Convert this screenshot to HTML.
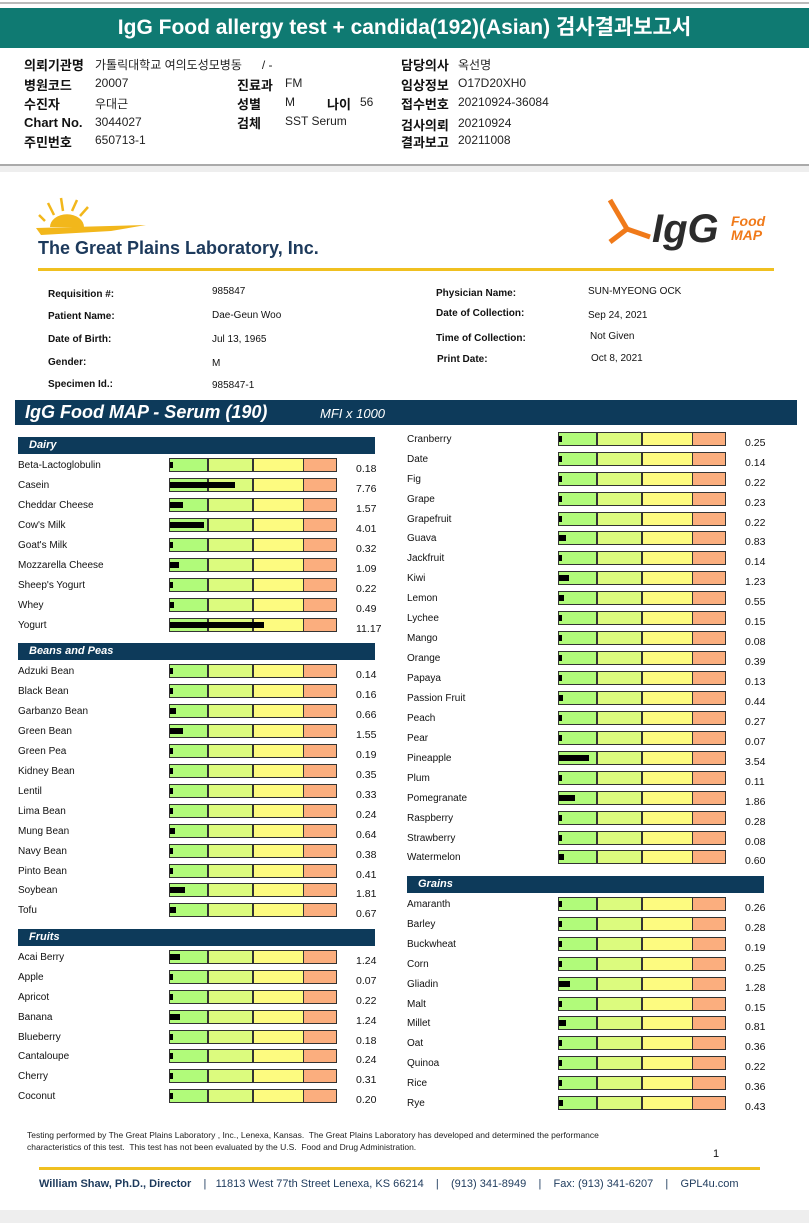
<!DOCTYPE html>
<html><head><meta charset="utf-8">
<style>
*{margin:0;padding:0;box-sizing:border-box}
body{width:809px;height:1223px;position:relative;background:#fff;font-family:"Liberation Sans","Noto Sans CJK KR",sans-serif;overflow:hidden;color:#111}
.a{position:absolute;white-space:nowrap}
.ttl{left:0;top:8px;width:809px;height:40px;background:#0f7a72;color:#fff;font-weight:bold;font-size:21px;text-align:center;line-height:40px}
.k{font-weight:bold;font-size:13px}
.t{font-size:12px;color:#222}
.ik{font-weight:bold;font-size:10px}
.iv{font-size:10px}
.col{position:absolute;left:0;top:0;width:400px;height:1223px}
.r{position:absolute;left:0;height:20px;width:400px}
.l{position:absolute;left:18px;top:-5px;font-size:10px}
.b{position:absolute;left:169px;top:-7px;width:168px;height:14px;border:1px solid #333;background:linear-gradient(90deg,#b1fb7a 0 37px,#333 37px 39px,#dcfb7e 39px 82px,#333 82px 84px,#fdfb80 84px 133px,#333 133px 134px,#fbae7e 134px)}
.b i{position:absolute;left:0;top:3px;height:6px;background:#000;width:max(3px,calc(var(--v)*8.4px))}
.v{position:absolute;left:356px;top:-2px;font-size:10.5px}
.h{position:absolute;left:18px;width:357px;height:17px;background:#0d3a5a;color:#fff;font-weight:bold;font-style:italic;font-size:11px;line-height:17px;padding-left:11px}
</style></head><body>
<div class="a" style="left:0;top:2px;width:809px;height:2px;background:#bbb"></div>
<div class="a ttl">IgG Food allergy test + candida(192)(Asian) 검사결과보고서</div>
<div class="a k" style="left:24px;top:55px">의뢰기관명</div><div class="a t" style="left:95px;top:56px">가톨릭대학교 여의도성모병동 &nbsp;&nbsp;&nbsp;&nbsp;&nbsp;/ -</div>
<div class="a k" style="left:24px;top:75px">병원코드</div><div class="a t" style="left:95px;top:76px">20007</div>
<div class="a k" style="left:24px;top:94px">수진자</div><div class="a t" style="left:95px;top:95px">우대근</div>
<div class="a k" style="left:24px;top:115px">Chart No.</div><div class="a t" style="left:95px;top:115px">3044027</div>
<div class="a k" style="left:24px;top:132px">주민번호</div><div class="a t" style="left:95px;top:133px">650713-1</div>
<div class="a k" style="left:237px;top:75px">진료과</div><div class="a t" style="left:285px;top:76px">FM</div>
<div class="a k" style="left:237px;top:94px">성별</div><div class="a t" style="left:285px;top:95px">M</div>
<div class="a k" style="left:327px;top:94px">나이</div><div class="a t" style="left:360px;top:95px">56</div>
<div class="a k" style="left:237px;top:113px">검체</div><div class="a t" style="left:285px;top:114px">SST Serum</div>
<div class="a k" style="left:401px;top:55px">담당의사</div><div class="a t" style="left:458px;top:56px">옥선명</div>
<div class="a k" style="left:401px;top:75px">임상정보</div><div class="a t" style="left:458px;top:76px">O17D20XH0</div>
<div class="a k" style="left:401px;top:94px">접수번호</div><div class="a t" style="left:458px;top:95px">20210924-36084</div>
<div class="a k" style="left:401px;top:115px">검사의뢰</div><div class="a t" style="left:458px;top:116px">20210924</div>
<div class="a k" style="left:401px;top:132px">결과보고</div><div class="a t" style="left:458px;top:133px">20211008</div>
<div class="a" style="left:0;top:164px;width:809px;height:8px;background:#eee;border-top:2px solid #aaa"></div>
<div class="a" style="left:0;top:1210px;width:809px;height:13px;background:#eee"></div>
<svg class="a" style="left:36px;top:195px" width="140" height="40"><g stroke="#f2b71b" stroke-width="2.5" fill="none"><line x1="18" y1="20" x2="12" y2="8"/><line x1="27" y1="16" x2="25" y2="3"/><line x1="36" y1="16" x2="41" y2="5"/><line x1="44" y1="21" x2="52" y2="12"/><line x1="9" y1="26" x2="3" y2="20"/></g><path d="M14 32 a16 12 0 0 1 34 0z" fill="#f2b71b"/><path d="M0 33 L110 30 L75 36 L5 40z" fill="#f2b71b"/></svg>
<div class="a" style="left:38px;top:238px;font-size:18px;font-weight:bold;color:#1d3a5c">The Great Plains Laboratory, Inc.</div>
<svg class="a" style="left:605px;top:197px" width="50" height="50"><g stroke="#f07a1a" stroke-width="5" fill="none"><line x1="5" y1="3" x2="22" y2="32"/><line x1="22" y1="32" x2="45" y2="40"/><line x1="22" y1="32" x2="5" y2="45"/></g></svg>
<div class="a" style="left:652px;top:207px;font-size:40px;font-weight:bold;font-style:italic;color:#2c2c2c">IgG</div>
<div class="a" style="left:731px;top:214px;font-size:14px;font-weight:bold;font-style:italic;color:#f07a1a;line-height:14px">Food<br>MAP</div>
<div class="a" style="left:38px;top:268px;width:736px;height:3px;background:#f0c020"></div>
<div class="a ik" style="left:48px;top:289px">Requisition #:</div><div class="a iv" style="left:212px;top:286px">985847</div>
<div class="a ik" style="left:48px;top:311px">Patient Name:</div><div class="a iv" style="left:212px;top:310px">Dae-Geun Woo</div>
<div class="a ik" style="left:48px;top:334px">Date of Birth:</div><div class="a iv" style="left:212px;top:334px">Jul 13, 1965</div>
<div class="a ik" style="left:48px;top:357px">Gender:</div><div class="a iv" style="left:212px;top:358px">M</div>
<div class="a ik" style="left:48px;top:379px">Specimen Id.:</div><div class="a iv" style="left:212px;top:380px">985847-1</div>
<div class="a ik" style="left:436px;top:288px">Physician Name:</div><div class="a iv" style="left:588px;top:286px">SUN-MYEONG OCK</div>
<div class="a ik" style="left:436px;top:308px">Date of Collection:</div><div class="a iv" style="left:588px;top:310px">Sep 24, 2021</div>
<div class="a ik" style="left:436px;top:333px">Time of Collection:</div><div class="a iv" style="left:590px;top:331px">Not Given</div>
<div class="a ik" style="left:437px;top:354px">Print Date:</div><div class="a iv" style="left:591px;top:353px">Oct 8, 2021</div>
<div class="a" style="left:15px;top:400px;width:782px;height:25px;background:#0d3a5a;color:#fff"><span style="position:absolute;left:10px;top:2px;font-size:18px;font-weight:bold;font-style:italic">IgG Food MAP - Serum (190)</span><span style="position:absolute;left:305px;top:6px;font-size:13px;font-style:italic">MFI x 1000</span></div>

<div class="col">
<div class="h" style="top:437px">Dairy</div>
<div class="r" style="top:465px"><span class="l">Beta-Lactoglobulin</span><div class="b"><i style="--v:0.18"></i></div><span class="v">0.18</span></div>
<div class="r" style="top:485px"><span class="l">Casein</span><div class="b"><i style="--v:7.76"></i></div><span class="v">7.76</span></div>
<div class="r" style="top:505px"><span class="l">Cheddar Cheese</span><div class="b"><i style="--v:1.57"></i></div><span class="v">1.57</span></div>
<div class="r" style="top:525px"><span class="l">Cow's Milk</span><div class="b"><i style="--v:4.01"></i></div><span class="v">4.01</span></div>
<div class="r" style="top:545px"><span class="l">Goat's Milk</span><div class="b"><i style="--v:0.32"></i></div><span class="v">0.32</span></div>
<div class="r" style="top:565px"><span class="l">Mozzarella Cheese</span><div class="b"><i style="--v:1.09"></i></div><span class="v">1.09</span></div>
<div class="r" style="top:585px"><span class="l">Sheep's Yogurt</span><div class="b"><i style="--v:0.22"></i></div><span class="v">0.22</span></div>
<div class="r" style="top:605px"><span class="l">Whey</span><div class="b"><i style="--v:0.49"></i></div><span class="v">0.49</span></div>
<div class="r" style="top:625px"><span class="l">Yogurt</span><div class="b"><i style="--v:11.17"></i></div><span class="v">11.17</span></div>
<div class="h" style="top:643px">Beans and Peas</div>
<div class="r" style="top:671px"><span class="l">Adzuki Bean</span><div class="b"><i style="--v:0.14"></i></div><span class="v">0.14</span></div>
<div class="r" style="top:691px"><span class="l">Black Bean</span><div class="b"><i style="--v:0.16"></i></div><span class="v">0.16</span></div>
<div class="r" style="top:711px"><span class="l">Garbanzo Bean</span><div class="b"><i style="--v:0.66"></i></div><span class="v">0.66</span></div>
<div class="r" style="top:731px"><span class="l">Green Bean</span><div class="b"><i style="--v:1.55"></i></div><span class="v">1.55</span></div>
<div class="r" style="top:751px"><span class="l">Green Pea</span><div class="b"><i style="--v:0.19"></i></div><span class="v">0.19</span></div>
<div class="r" style="top:771px"><span class="l">Kidney Bean</span><div class="b"><i style="--v:0.35"></i></div><span class="v">0.35</span></div>
<div class="r" style="top:791px"><span class="l">Lentil</span><div class="b"><i style="--v:0.33"></i></div><span class="v">0.33</span></div>
<div class="r" style="top:811px"><span class="l">Lima Bean</span><div class="b"><i style="--v:0.24"></i></div><span class="v">0.24</span></div>
<div class="r" style="top:831px"><span class="l">Mung Bean</span><div class="b"><i style="--v:0.64"></i></div><span class="v">0.64</span></div>
<div class="r" style="top:851px"><span class="l">Navy Bean</span><div class="b"><i style="--v:0.38"></i></div><span class="v">0.38</span></div>
<div class="r" style="top:871px"><span class="l">Pinto Bean</span><div class="b"><i style="--v:0.41"></i></div><span class="v">0.41</span></div>
<div class="r" style="top:890px"><span class="l">Soybean</span><div class="b"><i style="--v:1.81"></i></div><span class="v">1.81</span></div>
<div class="r" style="top:910px"><span class="l">Tofu</span><div class="b"><i style="--v:0.67"></i></div><span class="v">0.67</span></div>
<div class="h" style="top:929px">Fruits</div>
<div class="r" style="top:957px"><span class="l">Acai Berry</span><div class="b"><i style="--v:1.24"></i></div><span class="v">1.24</span></div>
<div class="r" style="top:977px"><span class="l">Apple</span><div class="b"><i style="--v:0.07"></i></div><span class="v">0.07</span></div>
<div class="r" style="top:997px"><span class="l">Apricot</span><div class="b"><i style="--v:0.22"></i></div><span class="v">0.22</span></div>
<div class="r" style="top:1017px"><span class="l">Banana</span><div class="b"><i style="--v:1.24"></i></div><span class="v">1.24</span></div>
<div class="r" style="top:1037px"><span class="l">Blueberry</span><div class="b"><i style="--v:0.18"></i></div><span class="v">0.18</span></div>
<div class="r" style="top:1056px"><span class="l">Cantaloupe</span><div class="b"><i style="--v:0.24"></i></div><span class="v">0.24</span></div>
<div class="r" style="top:1076px"><span class="l">Cherry</span><div class="b"><i style="--v:0.31"></i></div><span class="v">0.31</span></div>
<div class="r" style="top:1096px"><span class="l">Coconut</span><div class="b"><i style="--v:0.20"></i></div><span class="v">0.20</span></div>
</div>

<div class="col" style="left:389px">
<div class="r" style="top:439px"><span class="l">Cranberry</span><div class="b"><i style="--v:0.25"></i></div><span class="v">0.25</span></div>
<div class="r" style="top:459px"><span class="l">Date</span><div class="b"><i style="--v:0.14"></i></div><span class="v">0.14</span></div>
<div class="r" style="top:479px"><span class="l">Fig</span><div class="b"><i style="--v:0.22"></i></div><span class="v">0.22</span></div>
<div class="r" style="top:499px"><span class="l">Grape</span><div class="b"><i style="--v:0.23"></i></div><span class="v">0.23</span></div>
<div class="r" style="top:519px"><span class="l">Grapefruit</span><div class="b"><i style="--v:0.22"></i></div><span class="v">0.22</span></div>
<div class="r" style="top:538px"><span class="l">Guava</span><div class="b"><i style="--v:0.83"></i></div><span class="v">0.83</span></div>
<div class="r" style="top:558px"><span class="l">Jackfruit</span><div class="b"><i style="--v:0.14"></i></div><span class="v">0.14</span></div>
<div class="r" style="top:578px"><span class="l">Kiwi</span><div class="b"><i style="--v:1.23"></i></div><span class="v">1.23</span></div>
<div class="r" style="top:598px"><span class="l">Lemon</span><div class="b"><i style="--v:0.55"></i></div><span class="v">0.55</span></div>
<div class="r" style="top:618px"><span class="l">Lychee</span><div class="b"><i style="--v:0.15"></i></div><span class="v">0.15</span></div>
<div class="r" style="top:638px"><span class="l">Mango</span><div class="b"><i style="--v:0.08"></i></div><span class="v">0.08</span></div>
<div class="r" style="top:658px"><span class="l">Orange</span><div class="b"><i style="--v:0.39"></i></div><span class="v">0.39</span></div>
<div class="r" style="top:678px"><span class="l">Papaya</span><div class="b"><i style="--v:0.13"></i></div><span class="v">0.13</span></div>
<div class="r" style="top:698px"><span class="l">Passion Fruit</span><div class="b"><i style="--v:0.44"></i></div><span class="v">0.44</span></div>
<div class="r" style="top:718px"><span class="l">Peach</span><div class="b"><i style="--v:0.27"></i></div><span class="v">0.27</span></div>
<div class="r" style="top:738px"><span class="l">Pear</span><div class="b"><i style="--v:0.07"></i></div><span class="v">0.07</span></div>
<div class="r" style="top:758px"><span class="l">Pineapple</span><div class="b"><i style="--v:3.54"></i></div><span class="v">3.54</span></div>
<div class="r" style="top:778px"><span class="l">Plum</span><div class="b"><i style="--v:0.11"></i></div><span class="v">0.11</span></div>
<div class="r" style="top:798px"><span class="l">Pomegranate</span><div class="b"><i style="--v:1.86"></i></div><span class="v">1.86</span></div>
<div class="r" style="top:818px"><span class="l">Raspberry</span><div class="b"><i style="--v:0.28"></i></div><span class="v">0.28</span></div>
<div class="r" style="top:838px"><span class="l">Strawberry</span><div class="b"><i style="--v:0.08"></i></div><span class="v">0.08</span></div>
<div class="r" style="top:857px"><span class="l">Watermelon</span><div class="b"><i style="--v:0.60"></i></div><span class="v">0.60</span></div>
<div class="h" style="top:876px">Grains</div>
<div class="r" style="top:904px"><span class="l">Amaranth</span><div class="b"><i style="--v:0.26"></i></div><span class="v">0.26</span></div>
<div class="r" style="top:924px"><span class="l">Barley</span><div class="b"><i style="--v:0.28"></i></div><span class="v">0.28</span></div>
<div class="r" style="top:944px"><span class="l">Buckwheat</span><div class="b"><i style="--v:0.19"></i></div><span class="v">0.19</span></div>
<div class="r" style="top:964px"><span class="l">Corn</span><div class="b"><i style="--v:0.25"></i></div><span class="v">0.25</span></div>
<div class="r" style="top:984px"><span class="l">Gliadin</span><div class="b"><i style="--v:1.28"></i></div><span class="v">1.28</span></div>
<div class="r" style="top:1004px"><span class="l">Malt</span><div class="b"><i style="--v:0.15"></i></div><span class="v">0.15</span></div>
<div class="r" style="top:1023px"><span class="l">Millet</span><div class="b"><i style="--v:0.81"></i></div><span class="v">0.81</span></div>
<div class="r" style="top:1043px"><span class="l">Oat</span><div class="b"><i style="--v:0.36"></i></div><span class="v">0.36</span></div>
<div class="r" style="top:1063px"><span class="l">Quinoa</span><div class="b"><i style="--v:0.22"></i></div><span class="v">0.22</span></div>
<div class="r" style="top:1083px"><span class="l">Rice</span><div class="b"><i style="--v:0.36"></i></div><span class="v">0.36</span></div>
<div class="r" style="top:1103px"><span class="l">Rye</span><div class="b"><i style="--v:0.43"></i></div><span class="v">0.43</span></div>
</div>

<div class="a" style="left:27px;top:1129px;font-size:8.5px;line-height:12px;color:#222">Testing performed by The Great Plains Laboratory , Inc., Lenexa, Kansas.&nbsp; The Great Plains Laboratory has developed and determined the performance<br>characteristics of this test.&nbsp; This test has not been evaluated by the U.S.&nbsp; Food and Drug Administration.</div>
<div class="a" style="left:713px;top:1148px;font-size:11px">1</div>
<div class="a" style="left:39px;top:1167px;width:721px;height:3px;background:#f0c020"></div>
<div class="a" style="left:39px;top:1178px;font-size:11px;color:#1d3a5c"><b>William Shaw, Ph.D., Director</b> &nbsp;&nbsp; | &nbsp;&nbsp;11813 West 77th Street Lenexa, KS 66214 &nbsp;&nbsp; | &nbsp;&nbsp; (913) 341-8949 &nbsp;&nbsp; | &nbsp;&nbsp; Fax: (913) 341-6207 &nbsp;&nbsp; | &nbsp;&nbsp; GPL4u.com</div>
</body></html>
